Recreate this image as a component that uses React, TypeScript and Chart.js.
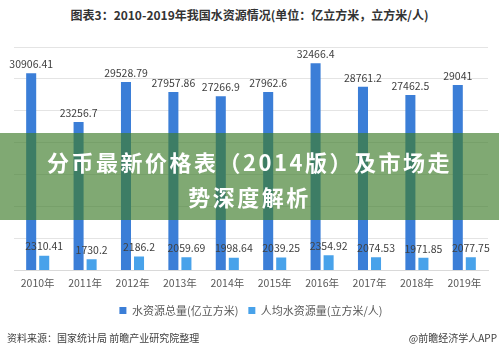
import React, { useEffect, useRef } from "react";
import { Chart, registerables } from "chart.js";

Chart.register(...registerables);

const categories = ["2010年", "2011年", "2012年", "2013年", "2014年", "2015年", "2016年", "2017年", "2018年", "2019年"];
const totalWater = [30906.41, 23256.7, 29528.79, 27957.86, 27266.9, 27962.6, 32466.4, 28761.2, 27462.5, 29041];
const perCapita = [2310.41, 1730.2, 2186.2, 2059.69, 1998.64, 2039.25, 2354.92, 2074.53, 1971.85, 2077.75];
const seriesNames = ["水资源总量(亿立方米)", "人均水资源量(立方米/人)"];
const yMax = 35000;
const yStep = 5000;

const FONT = '"Noto Sans CJK SC", "Noto Sans", sans-serif';

const valueLabels = {
  id: "valueLabels",
  afterDatasetsDraw(chart: any) {
    const ctx = chart.ctx;
    ctx.save();
    ctx.font = `10.5px ${FONT}`;
    ctx.fillStyle = "#404040";
    ctx.textAlign = "center";
    ctx.textBaseline = "bottom";
    chart.data.datasets.forEach((ds: any, di: number) => {
      const meta = chart.getDatasetMeta(di);
      meta.data.forEach((el: any, i: number) => {
        ctx.fillText(String(ds.data[i]), el.x, el.y - 4);
      });
    });
    ctx.restore();
  },
};

export default function App() {
  const ref = useRef<HTMLCanvasElement | null>(null);
  useEffect(() => {
    if (!ref.current) return;
    const chart = new Chart(ref.current, {
      type: "bar",
      data: {
        labels: categories,
        datasets: [
          { label: seriesNames[0], data: totalWater, backgroundColor: "#3b7ed7", categoryPercentage: 0.55, barPercentage: 0.77 },
          { label: seriesNames[1], data: perCapita, backgroundColor: "#48a2ea", categoryPercentage: 0.55, barPercentage: 0.77 },
        ],
      },
      options: {
        animation: false,
        responsive: false,
        maintainAspectRatio: false,
        layout: { padding: { top: 47, left: 14, right: 11, bottom: 29 } },
        plugins: {
          legend: {
            position: "bottom",
            labels: {
              font: { family: FONT, size: 11 },
              color: "#595959",
              boxWidth: 7,
              boxHeight: 7,
              padding: 10,
            },
          },
          tooltip: { enabled: false },
          title: { display: false },
        },
        scales: {
          x: {
            grid: { display: false, drawTicks: false },
            border: { color: "#d9d9d9" },
            ticks: { font: { family: FONT, size: 10.5 }, color: "#595959", padding: 6 },
          },
          y: {
            min: 0,
            max: yMax,
            ticks: { display: false, stepSize: yStep },
            grid: { color: "#e4e4e4", drawTicks: false },
            border: { display: false },
          },
        },
      },
      plugins: [valueLabels],
    });
    return () => chart.destroy();
  }, []);

  return (
    <div style={{ position: "absolute", left: 0, top: 0, width: 499, height: 355, background: "#fff", overflow: "hidden", fontFamily: FONT }}>
      <div style={{ position: "absolute", left: 0, top: 6, width: 499, textAlign: "center", fontSize: 12, fontWeight: "bold", color: "#333", lineHeight: "18px" }}>
        图表3：2010-2019年我国水资源情况(单位：亿立方米，立方米/人)
      </div>
      <canvas ref={ref} width={499} height={355} style={{ position: "absolute", left: 0, top: 0, width: 499, height: 355 }} />
      <div style={{ position: "absolute", left: 7, top: 331, fontSize: 10, color: "#404040", lineHeight: "14px" }}>
        资料来源：国家统计局 前瞻产业研究院整理
      </div>
      <div style={{ position: "absolute", right: 2, top: 331, fontSize: 10, color: "#404040", lineHeight: "14px" }}>
        @前瞻经济学人APP
      </div>
      <div style={{ position: "absolute", left: 0, top: 133, width: 499, height: 87, boxSizing: "border-box", paddingTop: 4, background: "rgba(62,124,42,0.66)", pointerEvents: "none", display: "flex", flexDirection: "column", alignItems: "center", justifyContent: "center" }}>
        <div style={{ color: "#fff", fontSize: 22, fontWeight: "bold", letterSpacing: 2.5, lineHeight: "35px", textAlign: "center" }}>
          分币最新价格表（2014版）及市场走
        </div>
        <div style={{ color: "#fff", fontSize: 22, fontWeight: "bold", letterSpacing: 2.5, lineHeight: "35px", textAlign: "center" }}>
          势深度解析
        </div>
      </div>
    </div>
  );
}
